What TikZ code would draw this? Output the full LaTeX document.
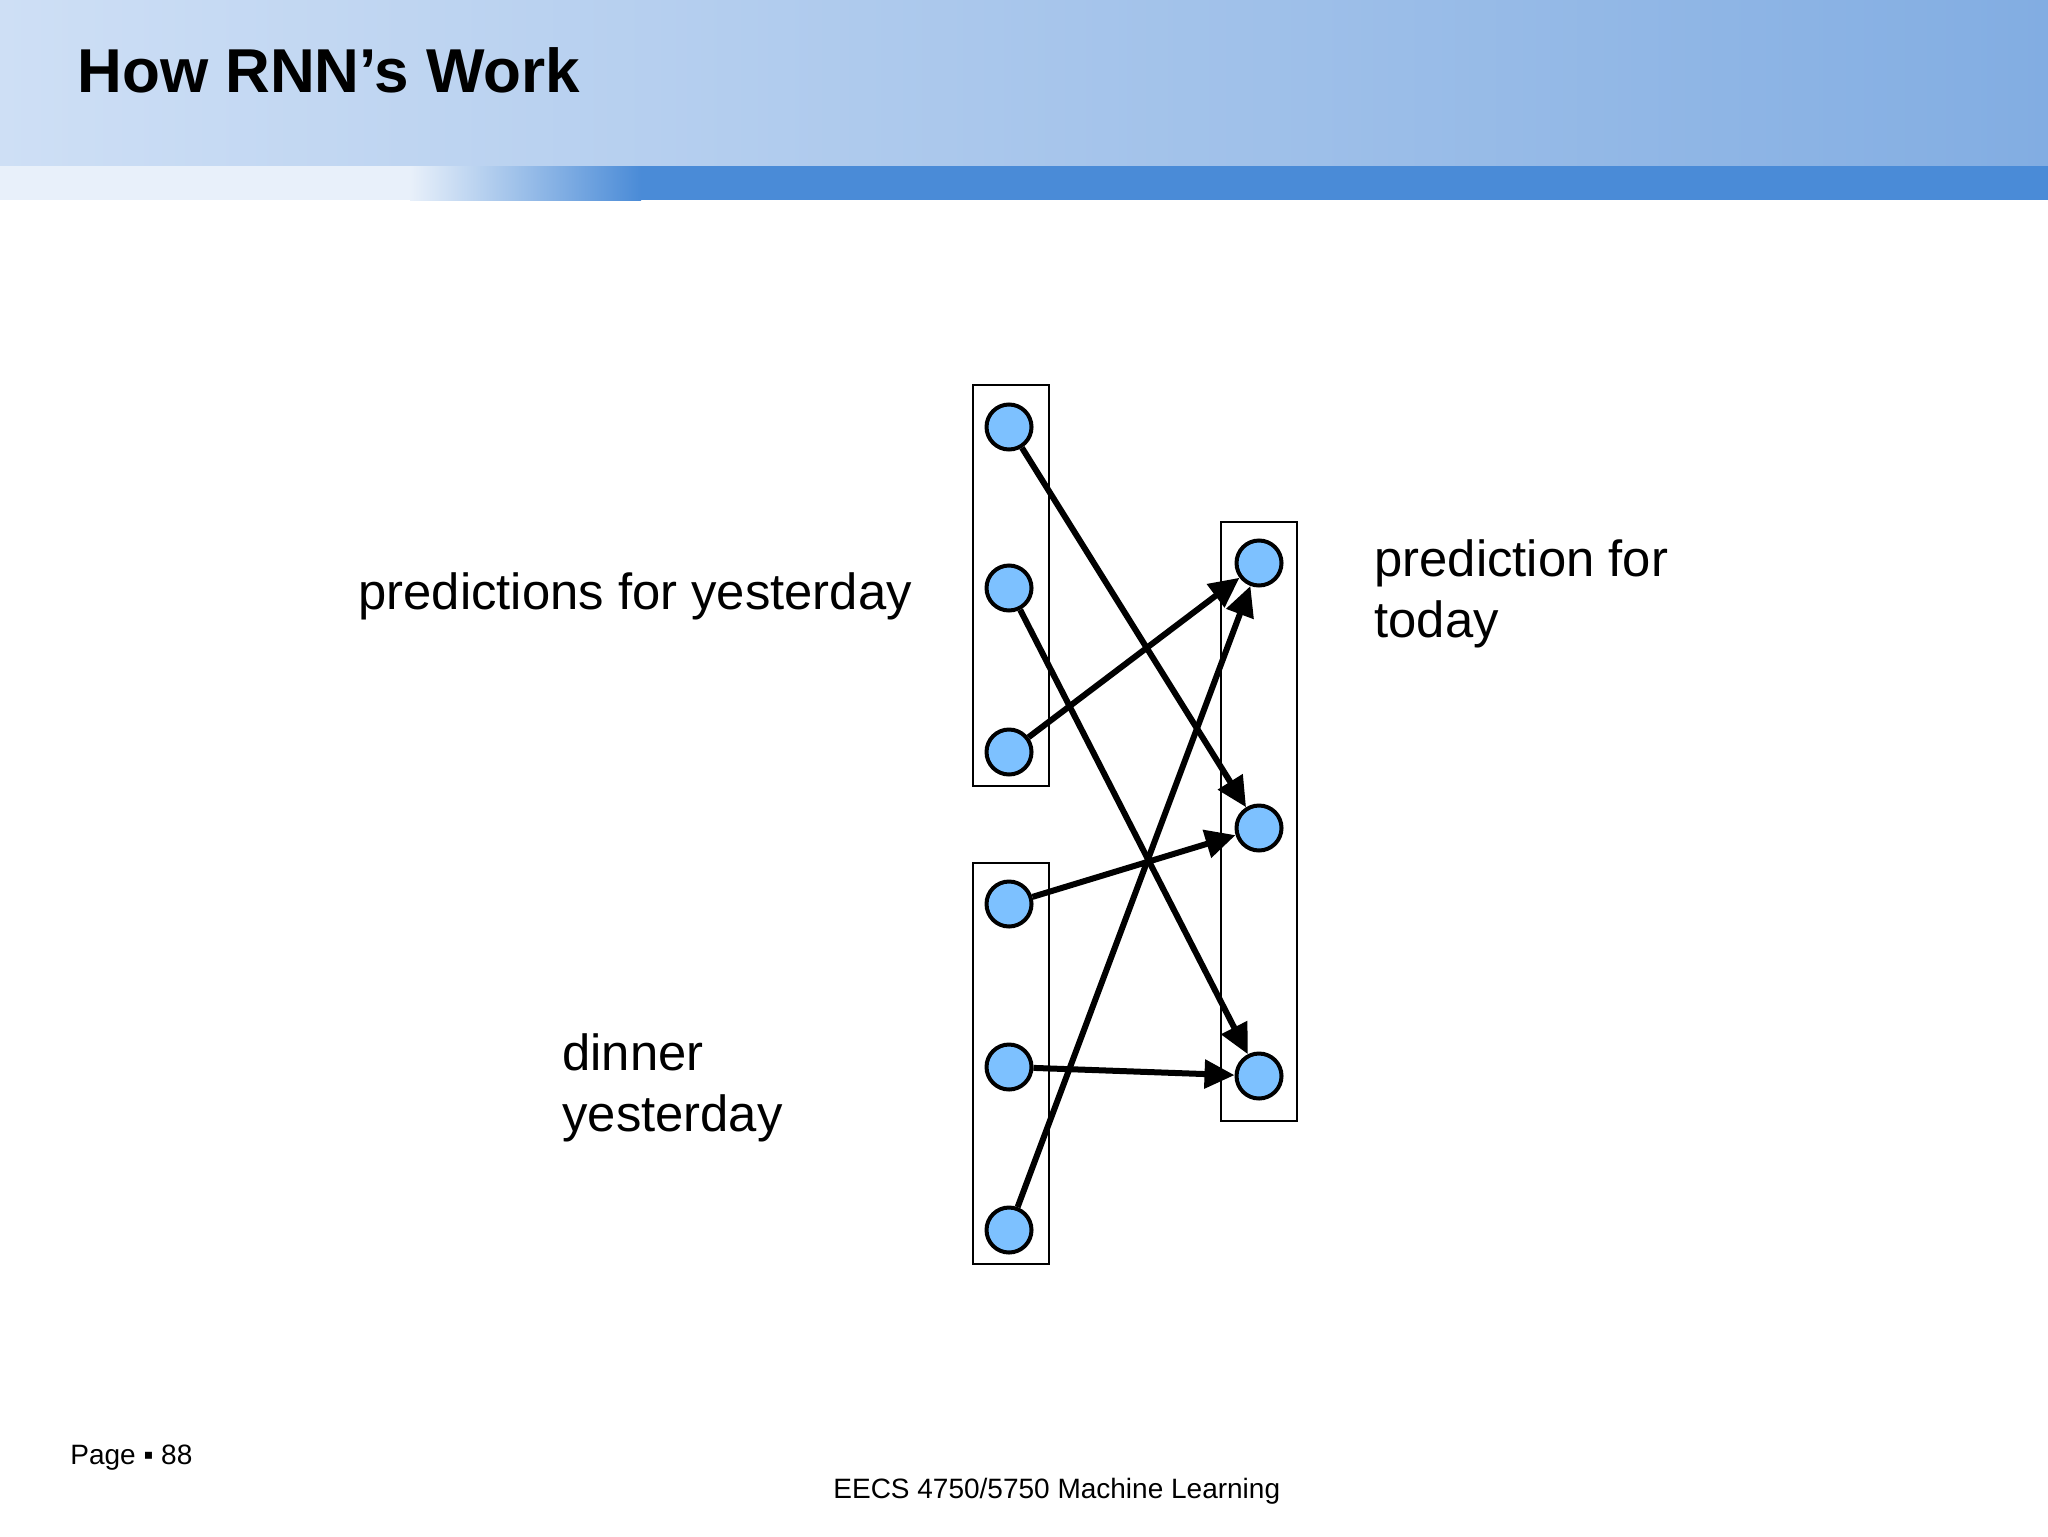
\documentclass[tikz,border=0pt]{standalone}
\usepackage{fontspec}
\setmainfont{Liberation Sans}
\usetikzlibrary{arrows.meta}
\definecolor{hdrL}{RGB}{206,223,245}
\definecolor{hdrR}{RGB}{130,173,226}
\definecolor{bandB}{RGB}{74,139,215}
\definecolor{bandL}{RGB}{232,240,250}
\definecolor{unitfill}{RGB}{125,193,255}
\tikzset{
  unit/.style={circle, draw=black, fill=unitfill, line width=2pt, minimum size=22.5pt, inner sep=0pt},
  layerbox/.style={draw=black, line width=1pt, minimum width=38pt, inner sep=0pt},
  conn/.style={line width=3pt, -{Triangle[length=15pt,width=14pt]}},
  lbl/.style={inner sep=0pt, font=\fontsize{25.4}{30.5}\selectfont, align=left},
  foot/.style={inner sep=0pt, font=\fontsize{14}{17}\selectfont}
}
\begin{document}
\begin{tikzpicture}[x=0.5pt,y=-0.5pt]
\useasboundingbox (0,0) rectangle (2048,1536);
\fill[white] (0,0) rectangle (2048,1536);
% header
\shade[left color=hdrL, right color=hdrR] (0,0) rectangle (2048,166);
\fill[bandB] (640,166) rectangle (2048,200);
\shade[left color=bandL, right color=bandB] (410,166) rectangle (641,200);
\fill[bandL] (0,166) rectangle (411,200);
\node[anchor=base west, inner sep=0pt, font=\fontsize{31}{37}\selectfont\bfseries] (title) at (77,93) {How RNN’s Work};
% boxes
\node[layerbox, minimum height=200.5pt] (boxA) at (1011,585.5) {};
\node[layerbox, minimum height=200.5pt] (boxB) at (1011,1063.5) {};
\node[layerbox, minimum height=299.5pt] (boxC) at (1259,821.5) {};
% units
\node[unit] (a1) at (1009,427) {};
\node[unit] (a2) at (1009,588) {};
\node[unit] (a3) at (1009,752) {};
\node[unit] (b1) at (1009,904) {};
\node[unit] (b2) at (1009,1067) {};
\node[unit] (b3) at (1009,1230) {};
\node[unit] (r1) at (1259,563) {};
\node[unit] (r2) at (1259,828) {};
\node[unit] (r3) at (1259,1076) {};
% connections
\draw[conn] (a1) -- (r2);
\draw[conn] (a2) -- (r3);
\draw[conn] (a3) -- (r1);
\draw[conn] (b1) -- (r2);
\draw[conn] (b2) -- (r3);
\draw[conn] (b3) -- (r1);
% labels
\node[lbl, anchor=base west] (predy) at (358,609) {predictions for yesterday};
\node[lbl, anchor=base west] (predt1) at (1374,576) {prediction for};
\node[lbl, anchor=base west] (predt2) at (1374,637) {today};
\node[lbl, anchor=base west] (din1) at (562,1070) {dinner};
\node[lbl, anchor=base west] (din2) at (562,1131) {yesterday};
% footer
\node[foot, anchor=base west] (page) at (70,1464) {Page ▪ 88};
\node[foot, anchor=base west] (course) at (833,1498) {EECS 4750/5750 Machine Learning};
\end{tikzpicture}
\end{document}
